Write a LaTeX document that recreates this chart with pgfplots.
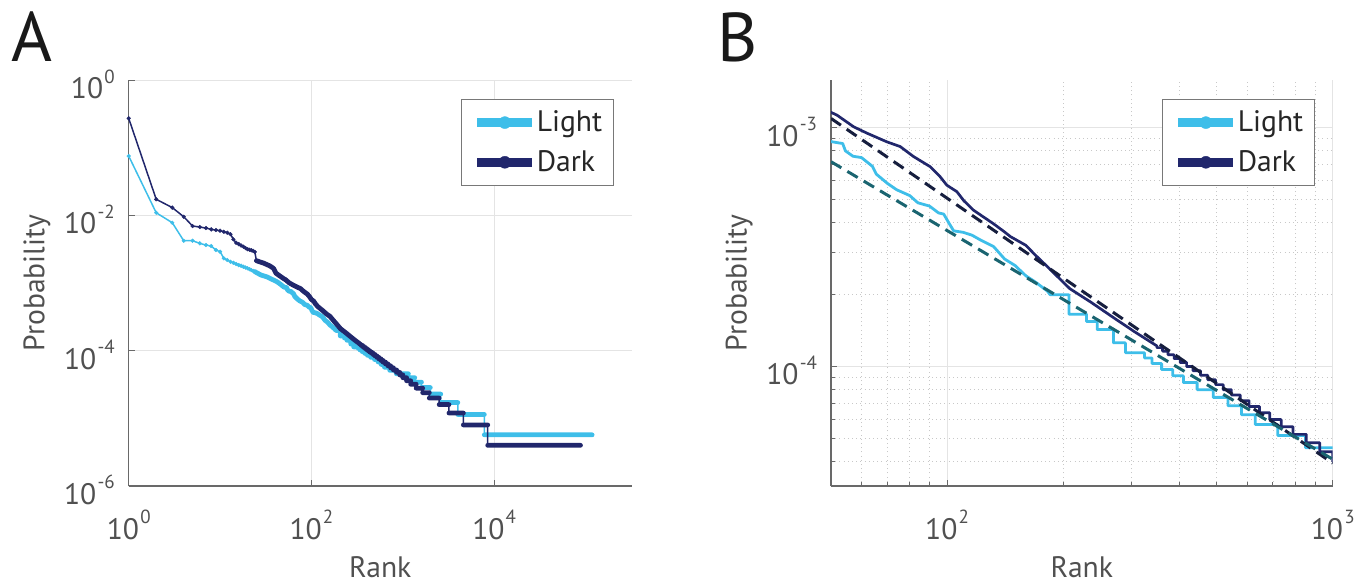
\documentclass[border=0pt]{standalone}
\usepackage{fontspec}
\setmainfont{PT Sans}
\usepackage{pgfplots}
\usepackage{pgfplotstable}
\pgfplotsset{compat=1.18}

\definecolor{cLight}{RGB}{62,190,233}
\definecolor{cDark}{RGB}{33,39,108}
\definecolor{cDarkFit}{RGB}{22,30,62}
\definecolor{cLightFit}{RGB}{26,100,112}
\definecolor{axgray}{RGB}{105,105,105}
\definecolor{txtgray}{RGB}{80,80,80}
\definecolor{gridgray}{RGB}{228,228,228}
\definecolor{mgridgray}{RGB}{200,200,200}
\definecolor{legdraw}{RGB}{120,120,120}
\definecolor{legtext}{RGB}{38,38,38}

\newcommand{\tickfont}{\fontsize{14.8}{16}\selectfont}
\newcommand{\tp}[1]{10\kern0.6pt\raisebox{7.8pt}{\fontsize{9.5}{10}\selectfont #1}}

% ---------------- Light series ----------------
\pgfplotstableread{
r p
1 0.0759
2 0.0110
3 0.00783
4 0.00424
5 0.00424
6 0.00388
7 0.00366
8 0.00354
9 0.00309
10 0.00292
11 0.00233
12 0.00220
13 0.00207
14 0.00200
15 0.00192
16 0.00185
17 0.00181
18 0.00175
19 0.00170
20 0.00166
21 0.00161
22 0.00156
23 0.00152
24 0.00148
}\LightHead

\pgfplotstableread{
r p
1 0.0759
2 0.0110
3 0.00783
4 0.00424
5 0.00424
6 0.00388
7 0.00366
8 0.00354
9 0.00309
10 0.00292
11 0.00233
12 0.00220
13 0.00207
14 0.00200
15 0.00192
16 0.00185
17 0.00181
18 0.00175
19 0.00170
20 0.00166
21 0.00161
22 0.00156
23 0.00152
24 0.00148
28 0.00132
32.5 0.00124
38 0.00112
42 0.00105
46 0.00096
50 0.000875
53.6 0.000859
54.5 0.000800
57 0.000760
60 0.000750
64 0.000690
65.5 0.000640
70 0.000585
74 0.000550
80 0.000520
84 0.000485
90 0.000470
95 0.000440
98 0.000435
101 0.000400
104 0.000370
110 0.000365
116 0.000355
122 0.000339
132 0.000318
141 0.000282
150 0.000265
160 0.000240
170 0.000225
182 0.000207
185 0.000200
207 0.000200
207 0.0001657
230 0.0001657
230 0.0001543
245 0.0001543
245 0.0001429
270 0.0001429
270 0.0001257
290 0.0001257
290 0.0001143
325 0.0001143
325 0.0001086
340 0.0001086
340 0.0001029
360 0.0001029
360 0.00009714
385 0.00009714
385 0.00009143
410 0.00009143
410 0.00008571
445 0.00008571
445 0.00008000
490 0.00008000
490 0.00007429
535 0.00007429
535 0.00006857
580 0.00006857
580 0.00006286
630 0.00006286
630 0.00005714
720 0.00005714
720 0.00005143
850 0.00005143
850 0.00004571
1150 0.00004571
1150 0.00004000
1350 0.00004000
1350 0.00003429
1600 0.00003429
1600 0.00002857
2000 0.00002857
2000 0.00002286
2600 0.00002286
2600 0.00001714
4000 0.00001714
4000 0.00001143
7800 0.00001143
7800 0.000005714
118000 0.000005714
}\LightAll

\pgfplotstableread{
r p
24 0.00148
28 0.00132
32.5 0.00124
38 0.00112
42 0.00105
46 0.00096
50 0.000875
53.6 0.000859
54.5 0.000800
57 0.000760
60 0.000750
64 0.000690
65.5 0.000640
70 0.000585
74 0.000550
80 0.000520
84 0.000485
90 0.000470
95 0.000440
98 0.000435
101 0.000400
104 0.000370
110 0.000365
116 0.000355
122 0.000339
132 0.000318
141 0.000282
150 0.000265
160 0.000240
170 0.000225
182 0.000207
185 0.000200
207 0.000200
207 0.0001657
230 0.0001657
230 0.0001543
245 0.0001543
245 0.0001429
270 0.0001429
270 0.0001257
290 0.0001257
290 0.0001143
325 0.0001143
325 0.0001086
340 0.0001086
340 0.0001029
360 0.0001029
360 0.00009714
385 0.00009714
385 0.00009143
410 0.00009143
410 0.00008571
445 0.00008571
445 0.00008000
490 0.00008000
490 0.00007429
535 0.00007429
535 0.00006857
580 0.00006857
580 0.00006286
630 0.00006286
630 0.00005714
720 0.00005714
720 0.00005143
850 0.00005143
850 0.00004571
1150 0.00004571
1150 nan
1150 0.00004000
1350 0.00004000
1350 nan
1350 0.00003429
1600 0.00003429
1600 nan
1600 0.00002857
2000 0.00002857
2000 nan
2000 0.00002286
2600 0.00002286
2600 nan
2600 0.00001714
4000 0.00001714
4000 nan
4000 0.00001143
7800 0.00001143
7800 nan
7800 0.000005714
118000 0.000005714
}\LightBand

% ---------------- Dark series ----------------
\pgfplotstableread{
r p
1 0.274
2 0.0174
3 0.0131
4 0.0096
5 0.0070
6 0.00676
7 0.00653
8 0.00624
9 0.00610
10 0.00596
11 0.00575
12 0.00557
13 0.00530
14 0.00444
15 0.00395
16 0.00378
17 0.00360
18 0.00346
19 0.00330
20 0.00318
21 0.00312
22 0.00307
23 0.00300
24 0.00290
}\DarkHead

\pgfplotstableread{
r p
1 0.274
2 0.0174
3 0.0131
4 0.0096
5 0.0070
6 0.00676
7 0.00653
8 0.00624
9 0.00610
10 0.00596
11 0.00575
12 0.00557
13 0.00530
14 0.00444
15 0.00395
16 0.00378
17 0.00360
18 0.00346
19 0.00330
20 0.00318
21 0.00312
22 0.00307
23 0.00300
24 0.00290
25 0.00215
27 0.00207
30 0.00198
35 0.00180
38.4 0.00166
41 0.00140
45 0.00128
50 0.00116
51.8 0.00113
57.2 0.00101
61.9 0.000950
69.8 0.000873
75.6 0.000834
81.9 0.000757
90.4 0.000687
95.9 0.000624
99.8 0.000575
106 0.000540
110.5 0.000495
117 0.000452
124 0.000424
132 0.000396
141 0.000366
146 0.000350
160 0.000322
169 0.000294
182 0.000262
208 0.000212
236 0.000186
269 0.000161
306 0.000140
350 0.000122
350 0.000120
362 0.000120
362 0.000116
374 0.000116
374 0.000112
388 0.000112
388 0.000108
402 0.000108
402 0.000104
418 0.000104
418 0.000100
434 0.000100
434 0.000096
454 0.000096
454 0.000092
474 0.000092
474 0.000088
497 0.000088
497 0.000084
520 0.000084
520 0.000080
546 0.000080
546 0.000076
576 0.000076
576 0.000072
607 0.000072
607 0.000068
646 0.000068
646 0.000064
687 0.000064
687 0.000060
735 0.000060
735 0.000056
789 0.000056
789 0.000052
854 0.000052
854 0.000048
925 0.000048
925 0.000044
1000 0.000044
1000 0.000040
1100 0.000040
1100 0.000036
1220 0.000036
1220 0.000032
1400 0.000032
1400 0.000028
1650 0.000028
1650 0.000024
1950 0.000024
1950 0.000020
2500 0.000020
2500 0.000016
3200 0.000016
3200 0.000012
4600 0.000012
4600 0.000008
8500 0.000008
8500 0.000004
88000 0.000004
}\DarkAll

\pgfplotstableread{
r p
25 0.00215
27 0.00207
30 0.00198
35 0.00180
38.4 0.00166
41 0.00140
45 0.00128
50 0.00116
51.8 0.00113
57.2 0.00101
61.9 0.000950
69.8 0.000873
75.6 0.000834
81.9 0.000757
90.4 0.000687
95.9 0.000624
99.8 0.000575
106 0.000540
110.5 0.000495
117 0.000452
124 0.000424
132 0.000396
141 0.000366
146 0.000350
160 0.000322
169 0.000294
182 0.000262
208 0.000212
236 0.000186
269 0.000161
306 0.000140
350 0.000122
350 0.000120
362 0.000120
362 0.000116
374 0.000116
374 0.000112
388 0.000112
388 0.000108
402 0.000108
402 0.000104
418 0.000104
418 0.000100
434 0.000100
434 0.000096
454 0.000096
454 0.000092
474 0.000092
474 0.000088
497 0.000088
497 0.000084
520 0.000084
520 0.000080
546 0.000080
546 0.000076
576 0.000076
576 0.000072
607 0.000072
607 0.000068
646 0.000068
646 0.000064
687 0.000064
687 0.000060
735 0.000060
735 0.000056
789 0.000056
789 0.000052
854 0.000052
854 0.000048
925 0.000048
925 0.000044
1000 0.000044
1000 0.000040
1100 0.000040
1100 nan
1100 0.000036
1220 0.000036
1220 nan
1220 0.000032
1400 0.000032
1400 nan
1400 0.000028
1650 0.000028
1650 nan
1650 0.000024
1950 0.000024
1950 nan
1950 0.000020
2500 0.000020
2500 nan
2500 0.000016
3200 0.000016
3200 nan
3200 0.000012
4600 0.000012
4600 nan
4600 0.000008
8500 0.000008
8500 nan
8500 0.000004
88000 0.000004
}\DarkBand

% ---------------- power-law fits (panel B) ----------------
\pgfplotstableread{
r p
50 0.001094
1000 0.0000394
}\DarkFit
\pgfplotstableread{
r p
50 0.000721
1000 0.0000409
}\LightFit

\pgfplotsset{
  panelax/.style={
    scale only axis,
    axis x line*=bottom, axis y line*=left,
    axis line style={draw=axgray, line width=0.6pt},
    tick style={draw=axgray, line width=0.5pt},
    major tick length=3pt, minor tick length=1.8pt,
    tick align=inside,
    tick label style={font=\tickfont, text=txtgray},
    xticklabel style={anchor=north, inner sep=0pt, yshift=-12pt},
    yticklabel style={anchor=east, inner sep=0pt, xshift=-6.8pt, yshift=-2pt},
    label style={font=\tickfont, text=txtgray, inner sep=0pt},
    xlabel style={at={(axis description cs:0.5,0)}, anchor=base, yshift=-45.5pt},
    major grid style={draw=gridgray, line width=0.5pt},
    minor grid style={draw=mgridgray, line width=0.45pt, dash pattern=on 0.5pt off 1.6pt},
    legend style={at={(1,1)}, anchor=north east, xshift=-9pt, yshift=-9.5pt,
      draw=legdraw, line width=0.5pt, fill=white,
      inner xsep=5.5pt, inner ysep=5.4pt, row sep=7.85pt,
      font=\tickfont, text=legtext, cells={anchor=west},
      nodes={inner sep=0pt}},
    legend style={/tikz/every even column/.append style={column sep=3.2pt, text height=10.5pt, text depth=3pt}},
    xlabel={Rank}, ylabel={Probability},
  },
  legimg/.style={line width=4.5pt, mark=*, mark size=3pt,
    legend image code/.code={\draw[##1, mark repeat=2, mark phase=2]
      plot coordinates {(0pt,0pt) (13.75pt,0pt) (27.5pt,0pt)};}},
}

\begin{document}
\begin{tikzpicture}
\useasboundingbox (0,0) rectangle (679pt,292.5pt);

\node[anchor=base west, inner sep=0pt, font=\fontsize{35}{35}\selectfont, text=black!90] at (5.7pt,261.5pt) {A};
\node[anchor=base west, inner sep=0pt, font=\fontsize{34.5}{35}\selectfont, text=black!90] at (358.3pt,261.5pt) {B};

% ================= Panel A =================
\begin{loglogaxis}[panelax,
  at={(64.35pt,49.5pt)}, anchor=south west,
  width=251.5pt, height=202.85pt,
  xmin=1, xmax=320000, ymin=1e-6, ymax=1,
  xtick={1,100,10000}, xticklabels={\tp{0},\tp{2},\tp{4}},
  ytick={1e-6,1e-4,1e-2,1}, yticklabels={\tp{-6},\tp{-4},\tp{-2},\tp{0}},
  xminorticks=false, yminorticks=false,
  grid=major,
  ylabel style={at={(axis description cs:-0.1676,0.5)}, anchor=base},
]
\addlegendimage{legimg, cLight, mark options={solid, fill=cLight, draw=cLight, line width=0.2pt}}
\addlegendentry{Light}
\addlegendimage{legimg, cDark, mark options={solid, fill=cDark, draw=cDark, line width=0.2pt}}
\addlegendentry{Dark}

\addplot[forget plot, cLight, line width=0.75pt] table[x=r, y=p] {\LightAll};
\addplot[forget plot, cLight, line width=2.4pt, line cap=round, line join=round, unbounded coords=jump] table[x=r, y=p] {\LightBand};
\addplot[forget plot, only marks, mark=*, mark size=0.95pt, mark options={fill=cLight, draw=cLight, line width=0.2pt}] table[x=r, y=p] {\LightHead};

\addplot[forget plot, cDark, line width=0.75pt] table[x=r, y=p] {\DarkAll};
\addplot[forget plot, cDark, line width=2.4pt, line cap=round, line join=round, unbounded coords=jump] table[x=r, y=p] {\DarkBand};
\addplot[forget plot, only marks, mark=*, mark size=0.95pt, mark options={fill=cDark, draw=cDark, line width=0.2pt}] table[x=r, y=p] {\DarkHead};
\end{loglogaxis}

% ================= Panel B =================
\begin{loglogaxis}[panelax,
  at={(415.5pt,49.5pt)}, anchor=south west,
  width=250.85pt, height=202.85pt,
  xmin=50, xmax=1000, ymin=3.16e-5, ymax=1.58e-3,
  xtick={100,1000}, xticklabels={\tp{2},\tp{3}},
  ytick={1e-4,1e-3}, yticklabels={\tp{-4},\tp{-3}},
  minor xtick={60,70,80,90,200,300,400,500,600,700,800,900},
  minor ytick={4e-5,5e-5,6e-5,7e-5,8e-5,9e-5,2e-4,3e-4,4e-4,5e-4,6e-4,7e-4,8e-4,9e-4},
  grid=both,
  ylabel style={at={(axis description cs:-0.1680,0.5)}, anchor=base},
]
\addlegendimage{legimg, cLight, mark options={solid, fill=cLight, draw=cLight, line width=0.2pt}}
\addlegendentry{Light}
\addlegendimage{legimg, cDark, mark options={solid, fill=cDark, draw=cDark, line width=0.2pt}}
\addlegendentry{Dark}

\addplot[forget plot, cLight, line width=1.4pt, line join=round] table[x=r, y=p] {\LightAll};
\addplot[forget plot, cDark, line width=1.35pt, line join=round] table[x=r, y=p] {\DarkAll};
\addplot[forget plot, cDarkFit, line width=1.5pt, dash pattern=on 6pt off 3.5pt] table[x=r, y=p] {\DarkFit};
\addplot[forget plot, cLightFit, line width=1.5pt, dash pattern=on 6pt off 3.5pt] table[x=r, y=p] {\LightFit};
\end{loglogaxis}
\end{tikzpicture}
\end{document}
